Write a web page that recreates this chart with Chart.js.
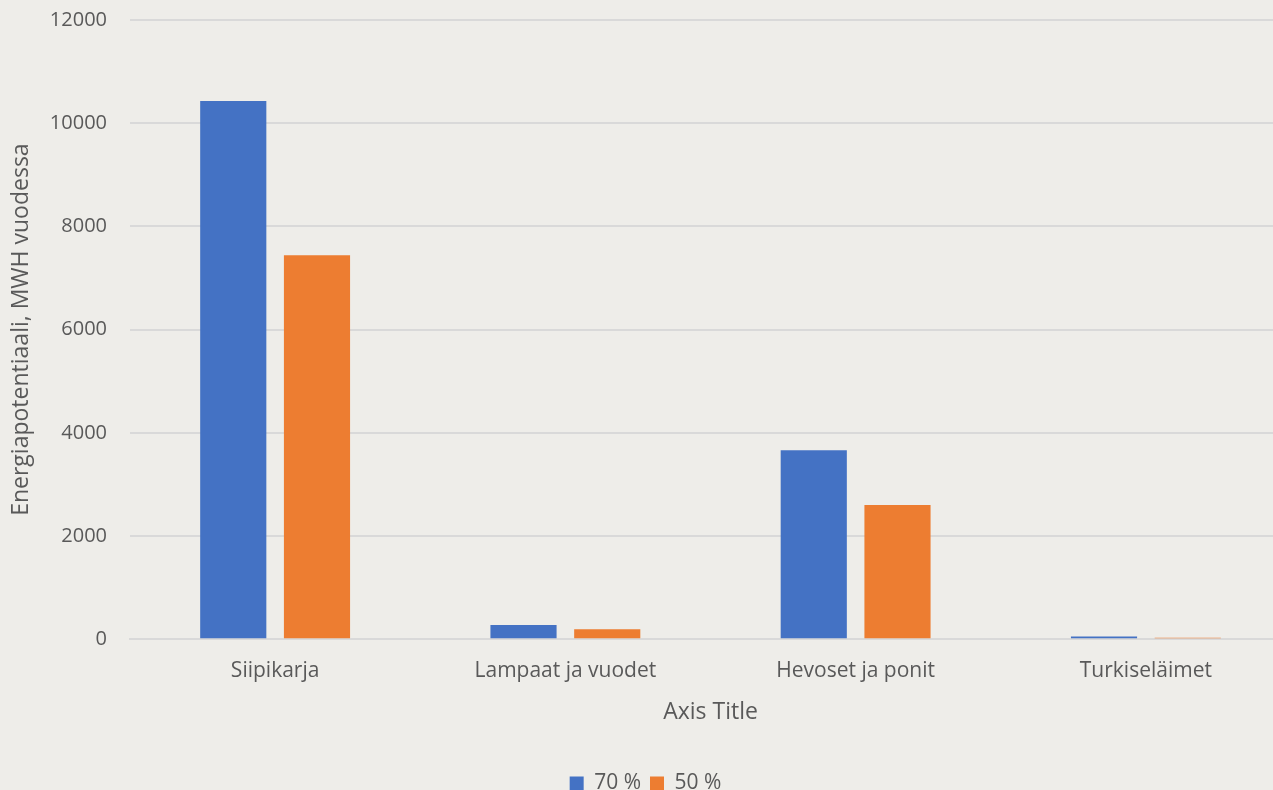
<!DOCTYPE html>
<html>
<head>
<meta charset="utf-8">
<script src="https://cdn.jsdelivr.net/npm/chart.js@4"></script>
<style>
    html, body { margin: 0; padding: 0; background: #EEEDE9; }
    body { width: 1273px; height: 790px; overflow: hidden; }
    /* plot runs a little past the right edge, as in the exported figure */
    #wrap { width: 1291px; height: 804px; }
</style>
</head>
<body>
<div id="wrap"><canvas id="myChart"></canvas></div>
<script>
const categories = ['Siipikarja', 'Lampaat ja vuodet', 'Hevoset ja ponit', 'Turkiseläimet'];
const seriesNames = ['70 %', '50 %'];
const values70 = [10430, 275, 3660, 50];
const values50 = [7440, 195, 2600, 30];
const yTicks = [0, 2000, 4000, 6000, 8000, 10000, 12000];

const textColor = '#595959';
const fontFamily = "'Open Sans', 'Noto Sans', sans-serif";

Chart.defaults.font.family = fontFamily;
Chart.defaults.color = textColor;

const data = {
    labels: categories,
    datasets: [{
        label: seriesNames[0],
        backgroundColor: '#4472C4',
        data: values70
    }, {
        label: seriesNames[1],
        backgroundColor: '#ED7D31',
        data: values50
    }]
};

const config = {
    type: 'bar',
    data: data,
    options: {
        responsive: true,
        maintainAspectRatio: false,
        animation: false,
        categoryPercentage: 0.577,
        barPercentage: 0.79,
        layout: { padding: 0 },
        plugins: {
            legend: {
                position: 'bottom',
                labels: {
                    boxWidth: 14,
                    boxHeight: 14,
                    padding: 9,
                    font: { size: 21 }
                }
            },
            tooltip: { enabled: false }
        },
        scales: {
            x: {
                grid: { display: false },
                border: { color: '#D9D9D9', width: 2 },
                ticks: { font: { size: 21 }, padding: 11 },
                title: {
                    display: true,
                    text: 'Axis Title',
                    font: { size: 23 },
                    padding: { top: 4, bottom: 38 }
                }
            },
            y: {
                min: 0,
                max: 12000,
                afterBuildTicks: function (axis) {
                    axis.ticks = yTicks.map(v => ({ value: v }));
                },
                afterFit: function (axis) {
                    axis.width = 130;
                    axis.paddingTop = 20;
                    axis.paddingBottom = 0;
                },
                grid: { color: '#D9D9D9', lineWidth: 2, drawTicks: false },
                border: { display: false },
                ticks: {
                    font: { size: 20 },
                    padding: 23,
                    callback: function (value) { return String(value); }
                },
                title: {
                    display: true,
                    text: 'Energiapotentiaali, MWH vuodessa',
                    font: { size: 23 },
                    padding: { top: 8, bottom: 14 }
                }
            }
        }
    }
};

const myChart = new Chart(document.getElementById('myChart'), config);
</script>
</body>
</html>
